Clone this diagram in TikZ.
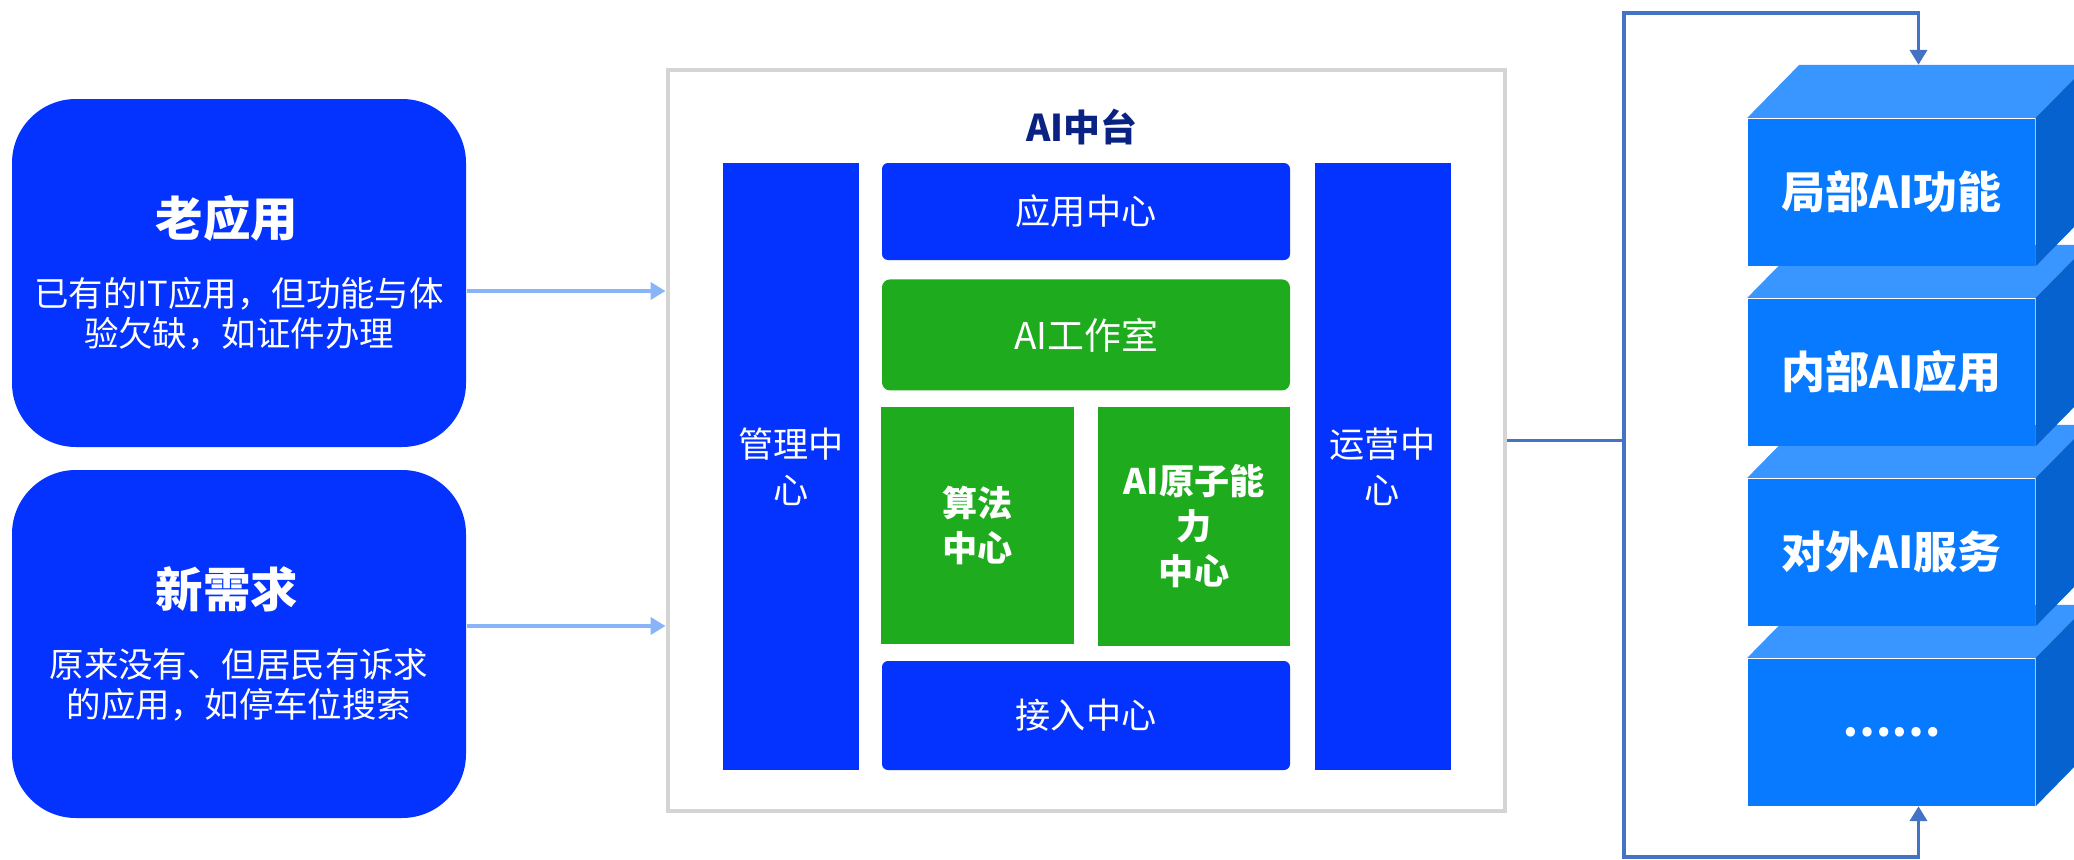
\documentclass[tikz,border=0pt]{standalone}
\usepackage{fontspec}
\setmainfont{Noto Sans CJK SC}
\usetikzlibrary{positioning, arrows.meta}

\definecolor{appblue}{RGB}{4,51,255}
\definecolor{labgreen}{RGB}{30,171,30}
\definecolor{titlenavy}{RGB}{10,35,130}
\definecolor{inarrow}{RGB}{138,180,248}
\definecolor{linkblue}{RGB}{68,114,196}
\definecolor{framegray}{RGB}{212,212,212}
\definecolor{cubefront}{RGB}{8,122,255}
\definecolor{cubetop}{RGB}{57,149,255}
\definecolor{cubeside}{RGB}{5,98,207}

% top and side faces of a block
\newcommand{\cubefaces}[1]{%
  \fill[cubetop] (#1.north west) -- ++(0.52,0.53) -- ([shift={(0.52,0.53)}]#1.north east) -- (#1.north east) -- cycle;
  \fill[cubeside] (#1.north east) -- ++(0.52,0.53) -- ([shift={(0.52,0.53)}]#1.south east) -- (#1.south east) -- cycle;}
\newcommand{\needtitle}[1]{{\bfseries\fontsize{13.5}{15}\selectfont #1}\hspace*{0.24cm}}

\begin{document}
\begin{tikzpicture}[node distance=1.8cm]
\tikzstyle{every node}=[text=white, inner sep=0pt, align=center]
\tikzstyle{need}=[fill=appblue, rounded corners=0.64cm, minimum width=4.54cm, minimum height=3.48cm, font=\fontsize{9.8}{11.4}\selectfont]
\tikzstyle{pillar}=[fill=appblue, minimum width=1.36cm, minimum height=6.07cm, font=\fontsize{10}{13}\selectfont]
\tikzstyle{layer}=[fill=appblue, rounded corners=0.06cm, minimum width=4.08cm, font=\fontsize{10}{12}\selectfont]
\tikzstyle{lab}=[fill=labgreen, font=\bfseries\fontsize{10}{12.8}\selectfont]
\tikzstyle{cube}=[fill=cubefront, minimum width=2.87cm, minimum height=1.47cm, font=\bfseries\fontsize{12.5}{14}\selectfont]
\tikzstyle{feed}=[draw=inarrow, line width=1.4pt, ->, >={Triangle[length=0.15cm,width=0.17cm]}]
\tikzstyle{link}=[draw=linkblue, line width=1.1pt, >={Triangle[length=0.15cm,width=0.17cm]}]

\clip (0,0) rectangle (20.74,-8.6);

% inputs
\node[need] (old) at (2.39,-2.73) {\needtitle{老应用}\\[8.6pt]已有的IT应用，但功能与体\\验欠缺，如证件办理};
\node[need, below of=old, node distance=3.71cm] (new) {\needtitle{新需求}\\[8.6pt]原来没有、但居民有诉求\\的应用，如停车位搜索};

% AI platform
\node[draw=framegray, line width=1.4pt, fill=white, minimum width=8.37cm, minimum height=7.41cm] (zt) at (10.865,-4.405) {};
\node[text=titlenavy, font=\bfseries\fontsize{10.5}{12}\selectfont] (zttitle) at (10.82,-1.27) {AI中台};

\node[pillar] (mgmt) at (7.91,-4.665) {管理中\\心};
\node[pillar] (ops) at (13.825,-4.665) {运营中\\心};
\node[layer, minimum height=0.97cm] (app) at (10.86,-2.115) {应用中心};
\node[lab, font=\fontsize{10.5}{12}\selectfont, rounded corners=0.08cm, minimum width=4.08cm, minimum height=1.11cm, below=0.18cm of app] (studio) {AI工作室};
\node[lab, minimum width=1.93cm, minimum height=2.37cm] (algo) at (9.775,-5.255) {算法\\中心};
\node[lab, minimum width=1.92cm, minimum height=2.39cm] (atom) at (11.94,-5.26) {AI原子能\\力\\中心};
\node[layer, minimum height=1.09cm] (access) at (10.86,-7.155) {接入中心};

\coordinate (in1) at ([yshift=-0.18cm]old.east);
\coordinate (in2) at ([yshift=0.18cm]new.east);
\draw[feed] (in1) -- (in1 -| zt.west);
\draw[feed] (in2) -- (in2 -| zt.west);

% outputs
\node[cube] (c4) at (18.915,-7.32) {……}; \cubefaces{c4}
\node[cube, above of=c4] (c3) {对外AI服务}; \cubefaces{c3}
\node[cube, above of=c3] (c2) {内部AI应用}; \cubefaces{c2}
\node[cube, above of=c2] (c1) {局部AI功能}; \cubefaces{c1}

\coordinate (upper) at (16.24,-0.13);
\coordinate (lower) at (16.24,-8.57);
\coordinate (c1t) at ([shift={(0.27,0.53)}]c1.north);
\coordinate (c4b) at ([xshift=0.27cm]c4.south);
\draw[link,->] (zt.east) -| (upper) -| (c1t);
\draw[link,->] (zt.east) -| (lower) -| (c4b);
\end{tikzpicture}
\end{document}
